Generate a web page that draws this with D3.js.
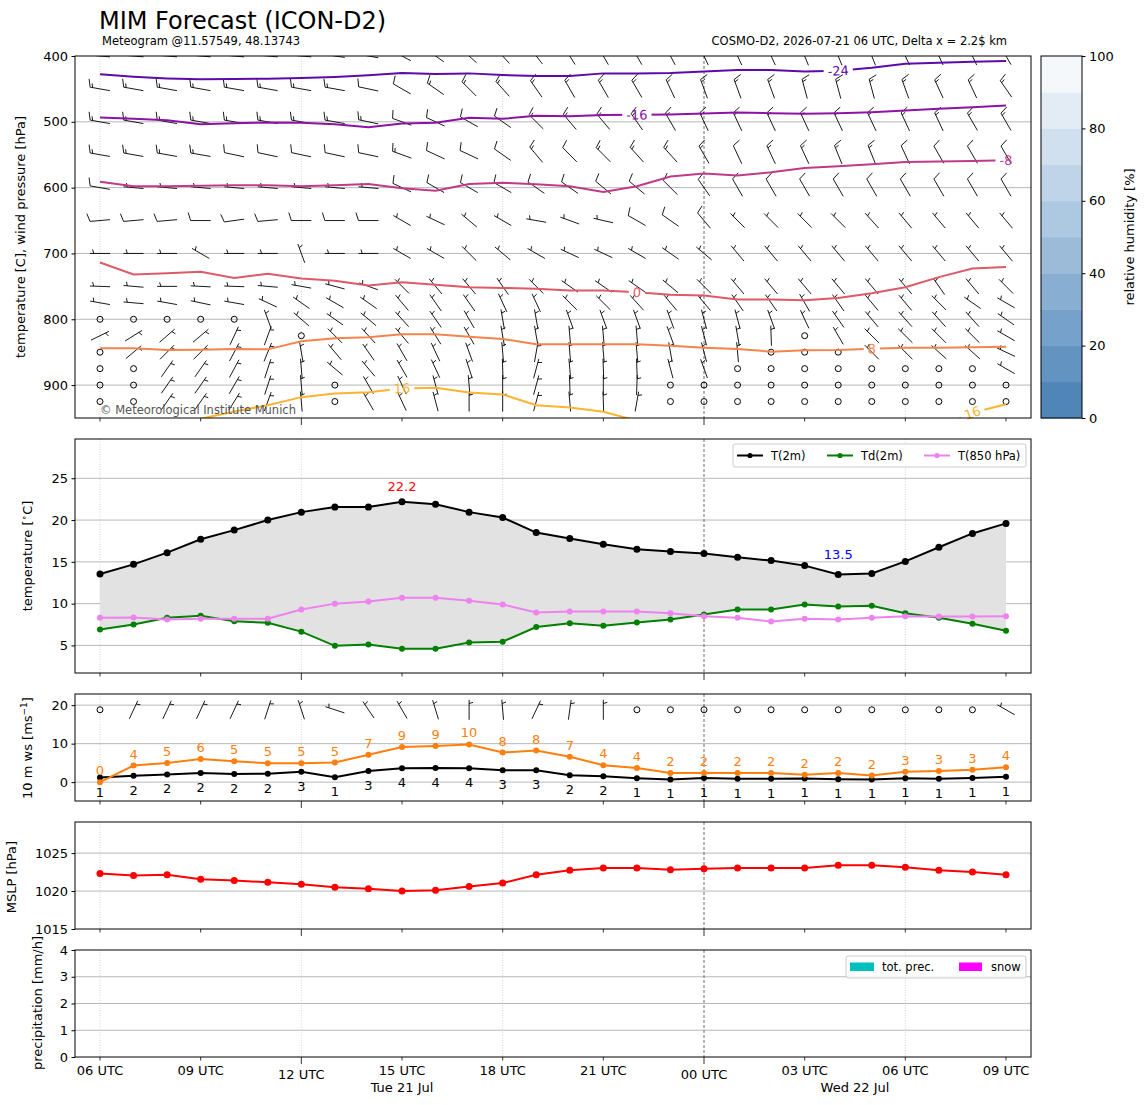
<!DOCTYPE html>
<html>
<head>
<meta charset="utf-8">
<script src="https://cdn.jsdelivr.net/npm/d3@7"></script>
<style>
body { margin: 0; background: #fff; }
svg { font-family: "DejaVu Sans", sans-serif; }
</style>
</head>
<body>
<div id="chart"></div>
<script>
// ---- data ----
var validTimes = [
  "2026-07-21T06:00Z","2026-07-21T07:00Z","2026-07-21T08:00Z","2026-07-21T09:00Z","2026-07-21T10:00Z",
  "2026-07-21T11:00Z","2026-07-21T12:00Z","2026-07-21T13:00Z","2026-07-21T14:00Z","2026-07-21T15:00Z",
  "2026-07-21T16:00Z","2026-07-21T17:00Z","2026-07-21T18:00Z","2026-07-21T19:00Z","2026-07-21T20:00Z",
  "2026-07-21T21:00Z","2026-07-21T22:00Z","2026-07-21T23:00Z","2026-07-22T00:00Z","2026-07-22T01:00Z",
  "2026-07-22T02:00Z","2026-07-22T03:00Z","2026-07-22T04:00Z","2026-07-22T05:00Z","2026-07-22T06:00Z",
  "2026-07-22T07:00Z","2026-07-22T08:00Z","2026-07-22T09:00Z"];

var t2m  = [13.55,14.7,16.1,17.7,18.8,20.0,20.95,21.55,21.55,22.2,21.9,20.95,20.3,18.5,17.8,17.1,16.5,16.25,16.0,15.55,15.15,14.55,13.5,13.6,15.05,16.75,18.4,19.6];
var td2m = [6.9,7.5,8.3,8.55,7.9,7.7,6.65,4.95,5.1,4.6,4.6,5.35,5.45,7.2,7.65,7.35,7.75,8.1,8.7,9.3,9.3,9.9,9.65,9.75,8.85,8.3,7.6,6.75];
var t850 = [8.3,8.35,8.1,8.2,8.2,8.2,9.3,10.0,10.25,10.7,10.7,10.35,9.9,8.95,9.05,9.05,9.05,8.85,8.5,8.3,7.85,8.2,8.1,8.3,8.5,8.45,8.45,8.5];

var ws10   = [1.2,1.65,2.0,2.4,2.1,2.2,2.7,1.3,2.9,3.6,3.7,3.6,3.1,3.1,1.8,1.56,1.04,0.7,1.1,0.87,0.87,0.95,0.78,0.7,1.04,0.87,1.1,1.4];
var gust10 = [0.0,4.3,5.0,6.0,5.4,4.9,4.9,5.1,7.1,9.1,9.4,9.8,7.7,8.2,6.6,4.4,3.65,2.4,2.4,2.4,2.4,1.9,2.4,1.7,2.7,2.9,3.2,3.9];
var wind10Dir = [0,25,25,25,25,18,342,288,326,330,343,0,355,25,8,0,0,0,0,0,0,0,0,0,0,0,0,300];
var wind10Kt  = [0,5,5,5,5,5,5,5,5,5,5,5,5,5,5,5,0,0,0,0,0,0,0,0,0,0,0,5];

var mslp = [1022.3,1022.05,1022.15,1021.55,1021.4,1021.15,1020.9,1020.5,1020.3,1020.0,1020.1,1020.6,1021.05,1022.15,1022.75,1023.05,1023.05,1022.8,1022.95,1023.05,1023.05,1023.05,1023.4,1023.4,1023.15,1022.75,1022.5,1022.15];

var totPrec = [0,0,0,0,0,0,0,0,0,0,0,0,0,0,0,0,0,0,0,0,0,0,0,0,0,0,0,0];
var snowPrec = [0,0,0,0,0,0,0,0,0,0,0,0,0,0,0,0,0,0,0,0,0,0,0,0,0,0,0,0];

// isotherms (deg C) as pressure [hPa] per hour
var isoLevels = [-24, -16, -8, 0, 8, 16];
var isoPres = [
  [427.9,431.5,434.0,435.5,435.0,434.5,433.5,432.0,429.4,425.9,427.4,426.4,428.9,430.5,430.5,426.4,426.4,425.9,423.4,421.3,421.3,423.4,422.3,417.8,411.7,410.2,408.6,407.6],
  [493.4,495.4,497.5,503.6,502.0,501.0,501.5,503.6,508.1,502.5,501.5,493.9,495.4,490.9,491.4,489.8,489.3,488.8,487.3,485.8,486.8,487.8,486.8,485.3,482.7,480.2,477.7,475.1],
  [590.9,598.0,598.0,597.0,596.4,596.4,598.0,596.4,594.4,601.0,604.6,594.4,592.4,594.9,598.0,606.6,598.0,583.2,578.7,581.7,576.6,570.0,567.5,564.5,560.9,560.4,559.4,558.4],
  [713.7,732.0,729.9,727.9,737.1,731.0,738.1,741.6,748.7,743.7,747.7,751.3,752.3,753.8,756.3,756.3,758.9,762.9,763.9,770.1,770.1,771.1,767.5,760.4,751.3,736.0,723.0,720.5],
  [844.2,844.2,846.7,846.2,845.2,845.7,833.5,828.9,827.4,822.8,822.8,826.4,829.9,838.1,838.1,838.1,838.1,840.1,843.1,845.2,849.2,847.2,846.7,844.7,843.1,843.1,842.6,841.6],
  [975,968,961,951.2,940.1,930.5,918.3,912.7,910.7,905,904,911.2,914.2,930.5,934,940.6,954,962,968,972,975,975,975,972,968,965,942,929]
];
var isoLabelAt = [[22], [16], [27], [16], [23], [9, 26]];

// wind barbs: direction (deg, from) and speed (kt) per level and hour
var windLevels = [400, 450, 500, 550, 600, 650, 700, 750, 775, 800, 825, 850, 875, 900, 925];
var windDir = [
  [275,275,275,275,275,275,275,278,280,298,305,312,318,322,328,330,330,332,335,335,335,338,338,338,335,335,335,330],
  [280,280,280,280,280,280,280,280,282,300,305,315,318,325,330,330,330,335,340,340,340,345,345,345,340,335,335,325],
  [280,280,280,280,280,280,280,280,282,290,295,300,305,315,320,320,325,330,335,335,335,335,335,335,335,335,330,330],
  [280,280,280,280,282,282,282,282,282,290,295,295,305,320,315,315,318,318,330,335,335,335,338,338,335,330,330,330],
  [280,275,275,275,275,275,275,275,275,295,300,300,300,305,305,310,310,315,325,330,330,330,330,330,330,330,330,330],
  [265,265,265,270,262,265,270,270,270,300,295,310,300,280,290,283,300,305,320,315,315,315,315,318,320,320,320,320],
  [270,270,270,300,270,270,340,270,270,300,300,315,310,300,295,295,300,305,310,320,320,320,320,320,320,320,320,320],
  [272,275,270,273,272,275,280,285,290,315,320,320,325,315,305,305,305,310,315,320,320,320,320,320,320,325,320,315],
  [280,275,280,282,280,295,305,300,305,320,325,325,335,335,315,315,318,320,320,325,325,330,325,320,320,315,305,300],
  [0,0,0,0,0,340,311,305,310,318,325,330,350,350,340,340,340,340,345,345,340,335,325,320,318,318,318,305],
  [64,58,49,50,25,20,0,315,318,320,328,330,350,350,355,355,355,340,345,350,358,0,330,315,315,315,315,300],
  [0,50,45,45,28,22,350,320,325,330,335,340,355,10,355,355,355,350,345,355,0,0,0,315,315,312,312,295],
  [0,0,35,35,28,18,355,310,320,330,335,342,358,15,355,358,358,345,340,0,0,0,0,0,0,0,0,300],
  [0,0,35,35,30,18,355,0,330,335,345,355,0,15,358,0,2,0,0,0,0,0,0,0,0,0,0,0],
  [0,0,35,35,32,20,355,0,330,335,345,0,0,15,355,358,10,0,0,0,0,0,0,0,0,0,0,0]
];
var windSpd = [
  [15,15,15,15,15,15,15,15,15,15,15,15,15,15,20,20,20,20,20,20,20,20,20,20,20,20,20,20],
  [15,15,15,15,15,15,15,15,10,10,15,15,15,15,15,15,15,15,15,15,15,15,15,15,15,15,15,15],
  [15,15,15,15,15,15,15,15,15,10,10,10,10,15,15,15,15,15,15,15,15,15,15,15,15,15,15,15],
  [15,15,15,15,10,10,10,10,10,15,10,10,10,15,10,15,15,15,15,10,15,15,15,15,10,10,10,10],
  [10,5,5,5,5,5,5,5,5,10,10,10,10,10,10,10,10,10,10,10,10,10,10,10,10,10,10,10],
  [10,10,10,10,10,10,10,10,10,5,5,5,5,5,5,5,10,10,10,5,5,5,5,5,5,5,5,5],
  [5,5,5,5,5,5,5,5,5,5,5,5,5,5,5,5,5,5,5,5,5,5,5,5,5,5,5,5],
  [5,5,5,5,5,5,5,5,5,5,5,5,5,5,5,5,5,5,5,5,5,5,5,5,5,5,5,5],
  [5,5,5,5,5,5,5,5,5,5,5,5,5,5,5,5,5,5,5,5,5,5,5,5,5,5,5,5],
  [0,0,0,0,0,5,5,5,5,5,5,5,5,5,5,5,5,5,5,5,5,5,5,5,5,5,5,5],
  [5,5,5,5,5,5,0,5,5,5,5,5,5,5,5,5,5,5,5,5,5,0,5,5,5,5,5,5],
  [0,5,5,5,5,5,5,5,5,5,5,5,5,5,5,5,5,5,5,5,0,0,0,5,5,5,5,5],
  [0,0,5,5,5,5,5,5,5,5,5,5,5,5,5,5,5,5,5,0,0,0,0,0,0,0,0,5],
  [0,0,5,5,5,5,5,0,5,5,5,5,5,5,5,5,5,0,0,0,0,0,0,0,0,0,0,0],
  [0,0,5,5,5,5,5,0,5,5,5,5,5,5,5,5,5,0,0,0,0,0,0,0,0,0,0,0]
];

var rhTicks = [0, 20, 40, 60, 80, 100];
var rhBands = [0, 10, 20, 30, 40, 50, 60, 70, 80, 90];

// ---- styles ----
var isoColors = ["#5e0aa8", "#8e12a6", "#c03a8a", "#dd5a66", "#f4844c", "#fbb430"];
var rhColors = ["#5085b7","#6393c1","#75a1ca","#88aed2","#9bbbd9","#adc8e1","#bfd4e8","#d1e0ee","#e3ebf5","#f4f8fb"];

var W = 1148, H = 1105, XL = 75, XR = 1031;
var FS = 13;
var BARB_LEN = 20;

var svg = d3.select("#chart").append("svg")
    .attr("width", W).attr("height", H);
var defs = svg.append("defs");

var parseT = d3.utcParse("%Y-%m-%dT%H:%MZ");
var dates = validTimes.map(parseT);
var pad = 0.745 * 3600e3;
var x = d3.scaleUtc()
    .domain([new Date(+dates[0] - pad), new Date(+dates[dates.length - 1] + pad)])
    .range([XL, XR]);

var ticks3 = d3.utcHour.every(3).range(dates[0], new Date(+dates[dates.length - 1] + 1));
var ticks6 = ticks3.filter(function(d) { return d.getUTCHours() % 6 == 0; });
function isMajor(d) { return d.getUTCHours() % 12 == 0; }

var yP = d3.scaleLinear().domain([400, 950]).range([56, 418]);
var yT = d3.scaleLinear().domain([1.7, 29.7]).range([673, 439]);
var yW = d3.scaleLinear().domain([-4.9, 22.9]).range([801, 694]);
var yM = d3.scaleLinear().domain([1015, 1029.1]).range([929, 822]);
var yR = d3.scaleLinear().domain([0, 4]).range([1057, 950]);

// ---- helpers ----
function hGrid(scale, vals) {
    svg.append("g").selectAll("line").data(vals).join("line")
        .attr("x1", XL).attr("x2", XR)
        .attr("y1", function(d) { return scale(d); })
        .attr("y2", function(d) { return scale(d); })
        .attr("stroke", "#b0b0b0").attr("stroke-width", 0.9);
}

function vGrid(y0, y1) {
    svg.append("g").selectAll("line").data(ticks6).join("line")
        .attr("x1", function(d) { return x(d); })
        .attr("x2", function(d) { return x(d); })
        .attr("y1", y0).attr("y2", y1)
        .attr("stroke", function(d) { return d.getUTCHours() == 0 ? "#444" : "#c8c8c8"; })
        .attr("stroke-width", 0.8)
        .attr("stroke-dasharray", function(d) { return d.getUTCHours() == 0 ? "3,2" : "1,1.5"; });
}

function yAxis(scale, vals, fmt) {
    var g = svg.append("g")
        .attr("transform", "translate(" + XL + ",0)")
        .call(d3.axisLeft(scale).tickValues(vals).tickSize(3.5).tickPadding(3.5).tickFormat(fmt || d3.format("d")));
    g.select(".domain").remove();
    g.attr("font-family", null).attr("font-size", null);
    g.selectAll("text").attr("font-size", FS).attr("fill", "#000");
    g.selectAll("line").attr("stroke", "#000");
}

function xTicks(y1) {
    svg.append("g").selectAll("line").data(ticks3).join("line")
        .attr("x1", function(d) { return x(d); })
        .attr("x2", function(d) { return x(d); })
        .attr("y1", y1)
        .attr("y2", function(d) { return y1 + (isMajor(d) ? 7 : 3.5); })
        .attr("stroke", "#000").attr("stroke-width", 0.8);
}

function frame(y0, y1) {
    svg.append("rect")
        .attr("x", XL).attr("y", y0)
        .attr("width", XR - XL).attr("height", y1 - y0)
        .attr("fill", "none").attr("stroke", "#000").attr("stroke-width", 1);
}

function yTitle(xpos, ycen, parts) {
    var t = svg.append("text")
        .attr("transform", "translate(" + xpos + "," + ycen + ") rotate(-90)")
        .attr("text-anchor", "middle")
        .attr("font-size", FS);
    parts.forEach(function(p) {
        var s = t.append("tspan").text(p.t);
        if (p.sup) s.attr("baseline-shift", "super").attr("font-size", 9);
    });
}

function marks(g, vals, scale, color, r) {
    g.append("path")
        .datum(vals)
        .attr("fill", "none").attr("stroke", color).attr("stroke-width", 2)
        .attr("d", d3.line()
            .x(function(d, i) { return x(dates[i]); })
            .y(function(d) { return scale(d); }));
    g.append("g").selectAll("circle").data(vals).join("circle")
        .attr("cx", function(d, i) { return x(dates[i]); })
        .attr("cy", function(d) { return scale(d); })
        .attr("r", r).attr("fill", color);
}

// matplotlib style wind barb, pivot in the middle
function drawBarb(g, cx, cy, dir, kt) {
    var L = BARB_LEN;
    if (kt < 2.5) {
        g.append("circle").attr("cx", cx).attr("cy", cy).attr("r", 0.15 * L)
            .attr("fill", "none").attr("stroke", "#000").attr("stroke-width", 1);
        return;
    }
    var rad = dir * Math.PI / 180;
    var u = -Math.sin(rad), v = -Math.cos(rad);
    var th = Math.atan2(v, u) + Math.PI / 2;
    var c = Math.cos(th), s = Math.sin(th);
    function pt(lx, ly) { return (cx + lx * c - ly * s).toFixed(2) + "," + (cy - (lx * s + ly * c)).toFixed(2); }
    var sp = 0.125 * L, h = 0.4 * L, w = 0.25 * L;
    var nFull = Math.floor(kt / 10), half = (kt % 10) >= 5;
    var d = "M" + pt(0, -L / 2) + "L" + pt(0, L / 2);
    var off = L / 2;
    for (var k = 0; k < nFull; k++) {
        d += "M" + pt(0, off) + "L" + pt(h, off + w / 2);
        off -= sp;
    }
    if (half) {
        if (nFull == 0) off -= 1.5 * sp;
        d += "M" + pt(0, off) + "L" + pt(h / 2, off + w / 4);
    }
    g.append("path").attr("d", d);
}

// ---- titles ----
svg.append("text").attr("x", 99).attr("y", 29).attr("font-size", 24).text("MIM Forecast (ICON-D2)");
svg.append("text").attr("x", 102).attr("y", 45).attr("font-size", 11.5).text("Meteogram @11.57549, 48.13743");
svg.append("text").attr("x", 1007).attr("y", 45).attr("font-size", 11.5).attr("text-anchor", "end")
    .text("COSMO-D2, 2026-07-21 06 UTC, Delta x = 2.2$ km");

// ---- panel 1: winds and isotherms on pressure levels ----
defs.append("clipPath").attr("id", "clipTop")
    .append("rect").attr("x", XL).attr("y", 56).attr("width", XR - XL).attr("height", 418 - 56);

hGrid(yP, [500, 600, 700, 800, 900]);
vGrid(56, 418);

var gBarb = svg.append("g").attr("clip-path", "url(#clipTop)")
    .attr("stroke", "#000").attr("stroke-width", 0.9).attr("fill", "none");
windLevels.forEach(function(lev, j) {
    dates.forEach(function(d, i) {
        drawBarb(gBarb, x(d), yP(lev), windDir[j][i], windSpd[j][i]);
    });
});

var gIso = svg.append("g").attr("clip-path", "url(#clipTop)");
isoLevels.forEach(function(lev, k) {
    var pts = isoPres[k].map(function(p, i) { return [x(dates[i]), yP(p)]; });
    var mask = defs.append("mask").attr("id", "isoMask" + k)
        .attr("maskUnits", "userSpaceOnUse")
        .attr("x", 0).attr("y", 0).attr("width", W).attr("height", H);
    mask.append("rect").attr("x", 0).attr("y", 0).attr("width", W).attr("height", H).attr("fill", "#fff");

    gIso.append("path")
        .datum(pts)
        .attr("mask", "url(#isoMask" + k + ")")
        .attr("fill", "none").attr("stroke", isoColors[k]).attr("stroke-width", 2)
        .attr("d", d3.line());

    isoLabelAt[k].forEach(function(i) {
        var a = pts[Math.max(0, i - 1)], b = pts[Math.min(pts.length - 1, i + 1)];
        var ang = Math.atan2(b[1] - a[1], b[0] - a[0]) * 180 / Math.PI;
        var lbl = svg.append("text")
            .attr("transform", "translate(" + pts[i][0] + "," + pts[i][1] + ") rotate(" + ang + ")")
            .attr("text-anchor", "middle").attr("dy", "0.36em")
            .attr("font-size", FS).attr("fill", isoColors[k])
            .text(lev);
        var tw = lbl.node().getComputedTextLength() + 8;
        mask.append("rect")
            .attr("x", -tw / 2).attr("y", -8).attr("width", tw).attr("height", 16)
            .attr("transform", "translate(" + pts[i][0] + "," + pts[i][1] + ") rotate(" + ang + ")")
            .attr("fill", "#000");
    });
});

svg.append("text").attr("x", 100).attr("y", 414).attr("font-size", 11.5).attr("fill", "#555")
    .text("\u00a9 Meteorological Institute Munich");

yAxis(yP, [400, 500, 600, 700, 800, 900]);
xTicks(418);
frame(56, 418);
yTitle(25, 237, [{t: "temperature [C], wind pressure [hPa]"}]);

// colorbar
var cbX = 1041, cbW = 41;
var yRH = d3.scaleLinear().domain([0, 100]).range([418, 56]);
svg.append("g").selectAll("rect").data(rhBands).join("rect")
    .attr("x", cbX).attr("width", cbW)
    .attr("y", function(d) { return yRH(d + 10); })
    .attr("height", function(d) { return yRH(d) - yRH(d + 10) + 0.5; })
    .attr("fill", function(d, i) { return rhColors[i]; });
svg.append("rect").attr("x", cbX).attr("y", 56).attr("width", cbW).attr("height", 362)
    .attr("fill", "none").attr("stroke", "#000").attr("stroke-width", 1);
var cbAxis = svg.append("g").attr("transform", "translate(" + (cbX + cbW) + ",0)")
    .call(d3.axisRight(yRH).tickValues(rhTicks).tickSize(3.5).tickPadding(3.5));
cbAxis.select(".domain").remove();
cbAxis.attr("font-family", null).attr("font-size", null);
cbAxis.selectAll("text").attr("font-size", FS).attr("fill", "#000");
yTitle(1134, 237, [{t: "relative humidity [%]"}]);

// ---- panel 2: 2 m temperature ----
hGrid(yT, [5, 10, 15, 20, 25]);
vGrid(439, 673);
var gT = svg.append("g");
gT.append("path")
    .datum(t2m)
    .attr("fill", "#e2e2e2")
    .attr("d", d3.area()
        .x(function(d, i) { return x(dates[i]); })
        .y0(function(d, i) { return yT(td2m[i]); })
        .y1(function(d) { return yT(d); }));
marks(gT, t2m, yT, "#000", 3.5);
marks(gT, td2m, yT, "#008000", 3);
marks(gT, t850, yT, "#ee82ee", 3);

var iMax = d3.maxIndex(t2m), iMin = d3.minIndex(t2m);
svg.append("text").attr("x", x(dates[iMax])).attr("y", yT(t2m[iMax] + 1.3))
    .attr("text-anchor", "middle").attr("font-size", FS).attr("fill", "red")
    .text(t2m[iMax].toFixed(1));
svg.append("text").attr("x", x(dates[iMin])).attr("y", yT(t2m[iMin] + 1.9))
    .attr("text-anchor", "middle").attr("font-size", FS).attr("fill", "blue")
    .text(t2m[iMin].toFixed(1));

var legT = [
    {label: "T(2m)", color: "#000", x: 737},
    {label: "Td(2m)", color: "#008000", x: 827},
    {label: "T(850 hPa)", color: "#ee82ee", x: 924}
];
svg.append("rect").attr("x", 733).attr("y", 444).attr("width", 293).attr("height", 23).attr("rx", 2)
    .attr("fill", "#fff").attr("fill-opacity", 0.8).attr("stroke", "#ccc");
legT.forEach(function(e) {
    svg.append("line").attr("x1", e.x).attr("x2", e.x + 26).attr("y1", 455.5).attr("y2", 455.5)
        .attr("stroke", e.color).attr("stroke-width", 2);
    svg.append("circle").attr("cx", e.x + 13).attr("cy", 455.5).attr("r", 2.6).attr("fill", e.color);
    svg.append("text").attr("x", e.x + 34).attr("y", 459.5).attr("font-size", 11.5).text(e.label);
});

yAxis(yT, [5, 10, 15, 20, 25]);
xTicks(673);
frame(439, 673);
yTitle(32, 556, [{t: "temperature ["}, {t: "\u2218", sup: true}, {t: "C]"}]);

// ---- panel 3: 10 m wind ----
hGrid(yW, [0, 10, 20]);
vGrid(694, 801);
var gW = svg.append("g");
marks(gW, ws10, yW, "#000", 3);
marks(gW, gust10, yW, "#ff7f0e", 3);
gW.append("g").selectAll("text").data(ws10).join("text")
    .attr("x", function(d, i) { return x(dates[i]); })
    .attr("y", function(d) { return yW(d) + 19; })
    .attr("text-anchor", "middle").attr("font-size", FS)
    .text(function(d) { return Math.round(d); });
gW.append("g").selectAll("text").data(gust10).join("text")
    .attr("x", function(d, i) { return x(dates[i]); })
    .attr("y", function(d) { return yW(d) - 7; })
    .attr("text-anchor", "middle").attr("font-size", FS).attr("fill", "#ff7f0e")
    .text(function(d) { return Math.round(d); });
var gB10 = svg.append("g").attr("stroke", "#000").attr("stroke-width", 0.9).attr("fill", "none");
dates.forEach(function(d, i) {
    drawBarb(gB10, x(d), yW(18.8), wind10Dir[i], wind10Kt[i]);
});
yAxis(yW, [0, 10, 20]);
xTicks(801);
frame(694, 801);
yTitle(32, 748, [{t: "10 m ws [ms"}, {t: "\u22121", sup: true}, {t: "]"}]);

// ---- panel 4: MSLP ----
hGrid(yM, [1020, 1025]);
vGrid(822, 929);
marks(svg.append("g"), mslp, yM, "#ff0000", 3.5);
yAxis(yM, [1015, 1020, 1025]);
xTicks(929);
frame(822, 929);
yTitle(16, 877, [{t: "MSLP [hPa]"}]);

// ---- panel 5: precipitation ----
hGrid(yR, [1, 2, 3]);
vGrid(950, 1057);
var bw = 20;
svg.append("g").selectAll("rect").data(totPrec).join("rect")
    .attr("x", function(d, i) { return x(dates[i]) - bw / 2; })
    .attr("y", function(d) { return yR(d); })
    .attr("width", bw).attr("height", function(d) { return yR(0) - yR(d); })
    .attr("fill", "#00bfbf");
svg.append("g").selectAll("rect").data(snowPrec).join("rect")
    .attr("x", function(d, i) { return x(dates[i]) - bw / 2; })
    .attr("y", function(d) { return yR(d); })
    .attr("width", bw).attr("height", function(d) { return yR(0) - yR(d); })
    .attr("fill", "#ff00ff");
svg.append("rect").attr("x", 846).attr("y", 956).attr("width", 180).attr("height", 22).attr("rx", 2)
    .attr("fill", "#fff").attr("fill-opacity", 0.8).attr("stroke", "#ccc");
svg.append("rect").attr("x", 850).attr("y", 962.5).attr("width", 24).attr("height", 8.5).attr("fill", "#00bfbf");
svg.append("text").attr("x", 882).attr("y", 971).attr("font-size", 11.5).text("tot. prec.");
svg.append("rect").attr("x", 959).attr("y", 962.5).attr("width", 23).attr("height", 8.5).attr("fill", "#ff00ff");
svg.append("text").attr("x", 991).attr("y", 971).attr("font-size", 11.5).text("snow");
yAxis(yR, [0, 1, 2, 3, 4]);
xTicks(1057);
frame(950, 1057);
yTitle(42, 1003, [{t: "precipitation [mm/h]"}]);

// bottom time labels
var fmtH = d3.utcFormat("%H UTC");
svg.append("g").selectAll("text").data(ticks3).join("text")
    .attr("x", function(d) { return x(d); })
    .attr("y", function(d) { return isMajor(d) ? 1078.5 : 1075; })
    .attr("text-anchor", "middle").attr("font-size", FS)
    .text(function(d) { return fmtH(d); });

var days = d3.utcDay.range(d3.utcDay.floor(dates[0]), dates[dates.length - 1]);
var fmtDay = d3.utcFormat("%a %d %b");
days.forEach(function(day) {
    var a = Math.max(+day, +dates[0]);
    var b = Math.min(+d3.utcDay.offset(day, 1), +dates[dates.length - 1]);
    svg.append("text")
        .attr("x", x(new Date((a + b) / 2))).attr("y", 1092)
        .attr("text-anchor", "middle").attr("font-size", FS)
        .text(fmtDay(day));
});
</script>
</body>
</html>
